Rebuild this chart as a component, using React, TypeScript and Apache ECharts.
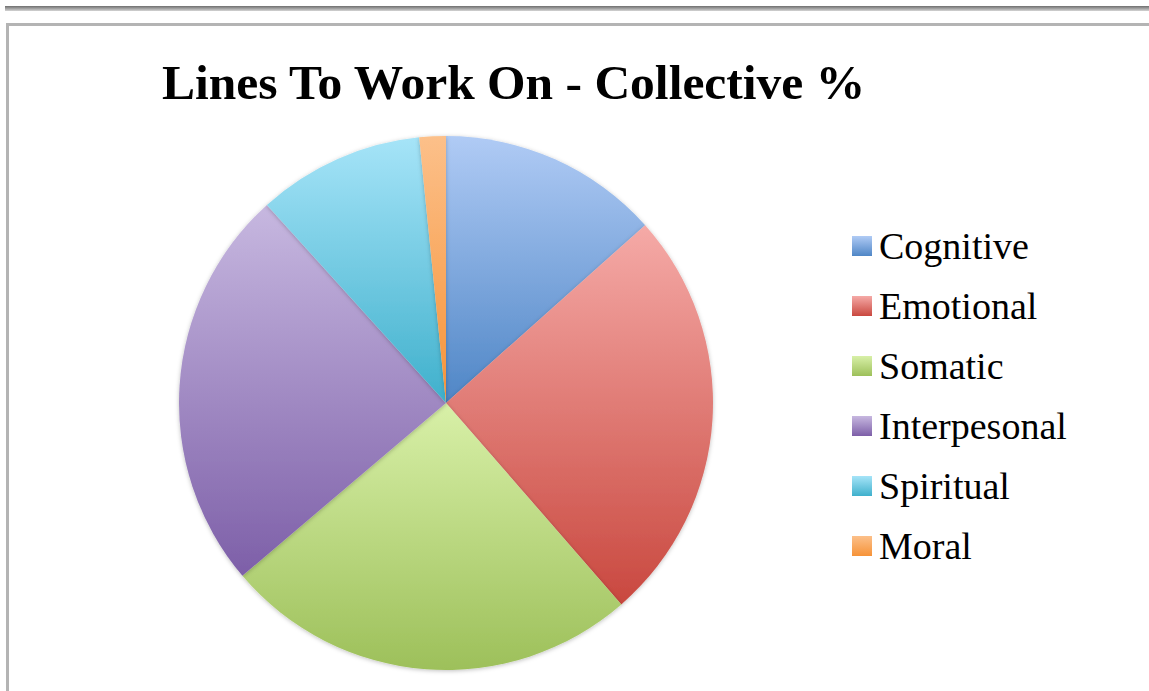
import React, { useEffect, useRef } from "react";
import * as echarts from "echarts";

const categories = ["Cognitive", "Emotional", "Somatic", "Interpesonal", "Spiritual", "Moral"];
const values = [13.4, 25.2, 25.2, 24.5, 10.1, 1.6];
const topColors = ["#b0cbf5", "#f5aaa7", "#d8f0a8", "#c7b8e0", "#a6e4f8", "#fcc08a"];
const bottomColors = ["#4f86c6", "#c9483f", "#9dc05a", "#7d5fa8", "#3fb0cc", "#f69338"];
const titleText = "Lines To Work On - Collective %";

export default function App() {
  const ref = useRef<HTMLDivElement>(null);
  useEffect(() => {
    if (!ref.current) return;
    const chart = echarts.init(ref.current, null, { renderer: "svg" });
    const grad = (i: number) =>
      new echarts.graphic.LinearGradient(0, 0, 0, 1, [
        { offset: 0, color: topColors[i] },
        { offset: 1, color: bottomColors[i] },
      ]);
    chart.setOption({
      animation: false,
      backgroundColor: "#ffffff",
      title: {
        text: titleText,
        left: 157,
        top: 52,
        textStyle: {
          fontFamily: "Liberation Serif",
          fontWeight: "bold",
          fontSize: 49.5,
          color: "#000",
        },
      },
      legend: {
        orient: "vertical",
        left: 847,
        top: 221,
        itemWidth: 20,
        itemHeight: 20,
        itemGap: 20,
        icon: "rect",
        data: categories,
        textStyle: {
          fontFamily: "Liberation Serif",
          fontSize: 38,
          lineHeight: 40,
          color: "#000",
          padding: [0, 0, 0, 2],
        },
      },
      graphic: [
        {
          type: "rect",
          shape: { x: 5, y: 6, width: 1144, height: 5 },
          style: {
            fill: new echarts.graphic.LinearGradient(0, 0, 0, 1, [
              { offset: 0, color: "#6e6e6e" },
              { offset: 1, color: "#d4d4d4" },
            ]),
          },
          silent: true,
        },
        {
          type: "rect",
          shape: { x: 6, y: 23, width: 1143, height: 3 },
          style: { fill: "#b4b4b4" },
          silent: true,
        },
        {
          type: "rect",
          shape: { x: 6, y: 23, width: 3, height: 668 },
          style: { fill: "#b4b4b4" },
          silent: true,
        },
      ],
      series: [
        {
          type: "pie",
          center: [446, 403],
          radius: 267,
          startAngle: 90,
          clockwise: true,
          label: { show: false },
          labelLine: { show: false },
          emphasis: { disabled: true },
          data: categories.map((name, i) => ({
            name,
            value: values[i],
            itemStyle: {
              color: grad(i),
              shadowBlur: 4,
              shadowColor: "rgba(0,0,0,0.25)",
              shadowOffsetY: 1,
            },
          })),
        },
      ],
    });
    return () => chart.dispose();
  }, []);
  return (
    <div
      ref={ref}
      style={{ position: "fixed", left: 0, top: 0, width: 1149, height: 691 }}
    />
  );
}
